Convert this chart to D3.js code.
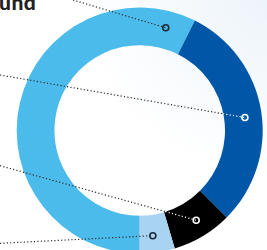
<!DOCTYPE html>
<html><head><meta charset="utf-8">
<script src="https://cdn.jsdelivr.net/npm/d3@7"></script>
<style>html,body{margin:0;padding:0;background:#fff;overflow:hidden}svg{display:block}</style>
</head><body>
<svg id="c" width="267" height="250"></svg>
<script>
const categories = ["A", "B", "C", "D"];
const values = [57.4, 30.1, 7.9, 4.6];
const colors = ["#4bbbeb", "#0057a8", "#000000", "#a8d4f2"];
const markerStroke = ["#1d2a36", "#ffffff", "#ffffff", "#1d2a36"];
const markerFrac = [0.94, 0.52, 0.45, 0.57];
const titleText = "und";

const W = 267, H = 250;
const cx = 139.7, cy = 130.5, R = 123, r = 85.3, mr = 106;
const svg = d3.select("#c");
const defs = svg.append("defs");
const g0 = defs.append("radialGradient").attr("id","bg").attr("cx","100%").attr("cy","0%").attr("r","70%");
g0.append("stop").attr("offset","0%").attr("stop-color","#edf4fa");
g0.append("stop").attr("offset","100%").attr("stop-color","#ffffff");
svg.append("rect").attr("width",W).attr("height",H).attr("fill","url(#bg)");

const pie = d3.pie().sort(null).value(d=>d).startAngle(Math.PI).endAngle(3*Math.PI);
const arcs = pie(values);
const arc = d3.arc().innerRadius(r).outerRadius(R);
const g = svg.append("g").attr("transform",`translate(${cx},${cy})`);
g.selectAll("path").data(arcs).enter().append("path")
  .attr("d",arc).attr("fill",(d,i)=>colors[i]);

// leader line start points (off-chart labels on the left)
const lineStart = [[73,0],[0,75],[0,165.7],[0,243.3]];

arcs.forEach((a,i)=>{
  const ang = a.startAngle + (a.endAngle-a.startAngle)*markerFrac[i];
  const mx = cx + mr*Math.sin(ang), my = cy - mr*Math.cos(ang);
  const [sx,sy] = lineStart[i];
  let ex = mx, ey = my;
  const dark = markerStroke[i] === "#ffffff";
  if (dark) {
    const n = 400; let tIn = 1;
    for (let k=n;k>=0;k--){const t=k/n;const x=sx+(mx-sx)*t-cx,y=sy+(my-sy)*t-cy;if(Math.hypot(x,y)<r){tIn=t;break;}}
    ex = sx+(mx-sx)*tIn; ey = sy+(my-sy)*tIn;
    svg.append("line").attr("x1",ex).attr("y1",ey).attr("x2",mx).attr("y2",my)
      .attr("stroke","#ffffff").attr("stroke-width",1.2).attr("stroke-dasharray","1.2,2.2");
  }
  svg.append("line").attr("x1",sx).attr("y1",sy).attr("x2",ex).attr("y2",ey)
    .attr("stroke","#2a2a2a").attr("stroke-width",1.2).attr("stroke-dasharray","1.2,2.2");
  svg.append("circle").attr("cx",mx).attr("cy",my).attr("r",3)
    .attr("fill","none").attr("stroke",markerStroke[i]).attr("stroke-width",1.6);
});

svg.append("text").attr("x",-1).attr("y",10).text(titleText)
  .attr("font-family","Lato, 'DejaVu Sans', sans-serif").attr("font-weight","900")
  .attr("font-size",21).attr("letter-spacing",0.5).attr("fill","#222");
</script>
</body></html>
